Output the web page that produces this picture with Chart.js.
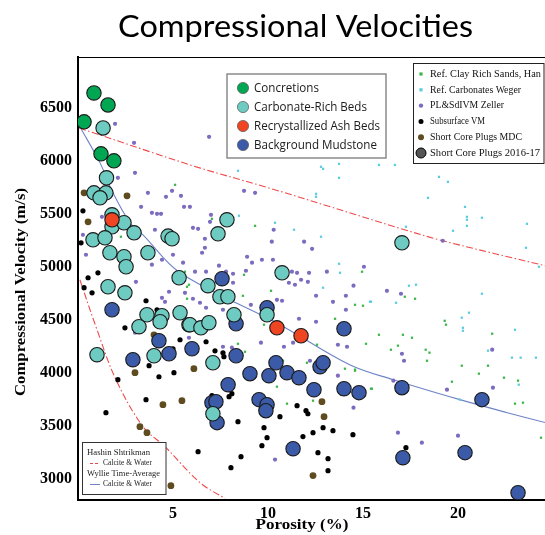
<!DOCTYPE html>
<html>
<head>
<meta charset="utf-8">
<script src="https://cdn.jsdelivr.net/npm/chart.js@4.4.1/dist/chart.umd.min.js"></script>
<style>
html,body{margin:0;padding:0;background:#fff;}
canvas{display:block;}
</style>
</head>
<body>
<canvas id="c" width="545" height="535"></canvas>
<script>
// ---------- DATA (porosity %, velocity m/s) ----------
const xTicks = [5, 10, 15, 20];
const yTicks = [3000, 3500, 4000, 4500, 5000, 5500, 6000, 6500];

const concretions = [[0.84,6641],[1.58,6528],[0.32,6368],[1.21,6066],[1.89,6000]];

const carbonateRich = [[1.32,6311],[1.5,5840],[0.84,5698],[1.47,5698],[1.16,5651],[1.79,5491],[1.79,5378],[2.42,5416],
  [2.95,5321],[0.79,5255],[1.42,5274],[1.68,5133],[2.42,5095],[2.53,5001],[3.68,5133],[4.74,5290],[4.95,5265],
  [5.32,4897],[1.58,4812],[2.47,4755],[3.63,4548],[3.21,4435],[4.42,4539],[4.32,4482],[5.37,4567],[5.84,4454],
  [1.0,4171],[4.0,4161],[7.84,5444],[7.37,5312],[10.74,4944],[6.84,4822],[7.47,4718],[7.89,4718],[8.21,4548],
  [9.95,4548],[5.89,4454],[6.47,4425],[6.89,4473],[7.1,4095],[7.1,3614],[17.05,5227]];

const ashBeds = [[1.79,5444],[10.47,4425],[11.74,4350]];

const mudstone = [[7.58,4888],[9.95,4614],[8.32,4463],[6.0,4227],[8.32,4161],[14.0,4416],[10.42,4095],[9.05,3992],
  [10.05,3973],[11.0,4001],[11.63,3954],[12.74,4058],[12.9,4095],[12.42,3841],[14.0,3850],[14.79,3813],[7.9,3888],
  [9.53,3747],[9.95,3699],[9.89,3643],[7.05,3718],[7.26,3728],[7.32,3530],[11.32,3284],[17.05,3860],[21.26,3747],
  [17.1,3199],[20.37,3247],[23.16,2869],[1.79,4595],[4.26,4303],[4.79,4180],[2.89,4124]];

const subsurfaceVM = [[0.26,5529],[0.16,5227],[1.05,4944],[0.53,4897],[0.32,4803],[0.74,4755],[3.58,4680],[4.16,4595],
  [2.47,4425],[5.37,4312],[5.0,4227],[4.26,4171],[3.74,4067],[4.26,3963],[5.05,4001],[2.1,3935],[3.58,3747],
  [1.47,3624],[6.74,4293],[7.21,4208],[7.63,4189],[7.68,4152],[7.05,3784],[8.1,3803],[7.95,3775],[8.42,3539],
  [10.63,3586],[11.53,3690],[12.0,3643],[12.1,3614],[9.79,3482],[12.37,3435],[12.9,3482],[13.42,3454],[14.47,3416],
  [11.84,3398],[9.95,3388],[9.68,3313],[6.32,3256],[8.58,3209],[8.05,3105],[12.63,3247],[13.16,3190],[13.16,3077],
  [17.26,3294]];

const plugsMDC = [[0.32,5698],[2.58,5670],[0.53,5425],[4.0,4359],[3.0,4001],[4.47,3699],[6.1,4039],[5.47,3737],
  [3.26,3492],[3.63,3435],[4.89,2935],[12.84,3728],[12.95,3586],[12.37,3030]];

const zeller = [[1.95,6349],[2.95,6170],[3.0,5887],[2.1,5840],[3.68,5698],[3.32,5566],[1.26,5472],[0.26,5302],
  [6.9,6227],[8.74,5717],[9.32,5698],[4.95,5717],[4.63,5661],[5.42,5670],[5.58,5566],[5.89,5566],[3.89,5510],
  [4.16,5500],[4.37,5500],[7.0,5491],[6.95,5425],[6.05,5368],[6.32,5359],[4.05,5350],[10.3,5350],[6.68,5265],
  [0.42,5114],[3.05,4859],[3.89,5020],[4.42,5067],[5.0,5114],[5.53,5039],[3.0,4378],[4.79,4765],[4.42,4708],
  [4.58,4670],[5.63,4755],[5.84,4331],[3.1,5274],[10.2,5237],[11.9,5237],[12.32,5170],[6.68,5180],[6.53,5133],
  [8.9,5095],[9.16,5039],[9.68,5067],[10.26,5067],[6.16,4954],[6.74,4954],[7.42,5011],[7.79,4954],[8.16,4935],
  [8.84,4963],[11.26,4954],[11.53,4944],[12.16,4944],[13.1,4954],[11.1,4850],[11.42,4831],[11.74,4878],[12.1,4859],
  [8.16,4850],[6.05,4699],[6.42,4661],[7.63,4595],[6.74,4614],[9.1,4642],[10.47,4689],[10.74,4680],[12.53,4727],
  [13.42,4670],[14.1,4727],[14.1,4595],[11.63,4510],[12.53,4482],[9.63,4284],[10.84,4246],[11.32,4284],[13.68,4265],
  [14.16,4246],[12.21,4114],[13.68,3973],[7.63,4246],[8.1,4237],[19.2,5246],[15.05,5001],[14.5,4822],[16.26,4774],
  [17.0,4746],[17.05,4180],[17.16,4114],[21.8,4218],[21.84,3860],[16.6,3926],[19.42,3841],[14.5,3671],[16.84,3435],
  [18.1,3341],[20.0,3407],[10.37,3181]];

const hanClay = [[5.11,5774],[9.32,5387],[7.05,5453],[2.26,5284],[5.63,4954],[5.84,4831],[5.74,4699],[8.74,4925],
  [10.16,4774],[8.68,4727],[5.74,4812],[13.53,4510],[14.95,4954],[14.58,4642],[15.0,4633],[12.58,4265],[12.05,4095],
  [15.84,4359],[9.79,4454],[8.79,4199],[8.42,4274],[10.79,4114],[10.47,3869],[14.05,4039],[14.58,4030],[11.0,3709],
  [15.47,3850],[13.84,3794],[12.37,3737],[17.2,4718],[17.74,4699],[17.1,4359],[17.58,4331],[15.16,4274],[16.84,4256],
  [16.47,4218],[18.3,4218],[18.5,4190],[18.37,4114],[19.3,4491],[19.37,4454],[21.8,4369],[20.2,4067],[21.1,3992],
  [21.58,4067],[22.42,3954],[23.16,3926],[19.68,3916],[14.58,4020],[15.42,3850],[23.0,3709],[23.42,3718],[24.37,3388]];

const wegerCarb = [[15.84,5962],[16.68,5962],[19.0,5849],[19.47,5802],[18.42,5651],[20.37,5566],[20.47,5472],
  [20.47,5444],[21.26,5463],[20.47,5387],[19.74,5340],[23.63,5406],[23.58,5180],[17.26,5378],[24.26,5001],[17.42,4822],
  [17.79,4831],[15.42,4671],[16.74,4661],[21.26,4746],[20.2,4520],[20.58,4567],[20.26,4425],[20.26,4397],[23.0,4406],
  [21.58,4209],[22.84,4143],[23.3,4143],[24.1,4143],[23.2,3888],[20.1,3747],[8.42,5906],[12.79,5944],[12.9,5925],
  [13.74,5972],[13.74,5840],[12.53,5689],[12.53,5661],[8.47,5482],[10.37,5416],[11.37,5350],[12.79,5284],[13.74,5029],
  [13.79,4944],[12.9,4803],[15.37,4671]];

// model curves
const hsUpper = [[0.05,6311],[3.8,6085],[6.4,5934],[10,5747],[13.2,5571],[16.9,5366],[19.2,5246],[24.6,5010]];
const hsLower = [[0.1,4878],[1.0,4407],[2.0,3935],[3.42,3492],[4.58,3303],[6.42,2964],[7.74,2813]];
const wyllie = [[0.1,6321],[1.16,5981],[1.84,5698],[2.74,5415],[3.42,5302],[5.37,4944],[10.63,4454],[14.3,4076],
  [16.6,3935],[20.1,3747],[22.6,3624],[24.6,3530]];

// ---------- STYLES ----------
const C = {
  concretion:'#00a651', carb:'#6dcbc1', ash:'#ef4523', mud:'#3b5ba9',
  han:'#3db54a', weger:'#5ccbe0', zeller:'#7c6bbf', vm:'#000000', mdc:'#5e4b1f', plug:'#555555',
  hs:'#ee4a4a', wy:'#6f84c8'
};
const pts = a => a.map(p => ({x:p[0], y:p[1]}));
const SERIF = '"Liberation Serif", "DejaVu Serif", serif';

function big(label, arr, color){
  return {label, data:pts(arr), backgroundColor:color, borderColor:'#1a1a1a', borderWidth:1.1, pointRadius:7.2, pointHoverRadius:7.2};
}
function small(label, arr, color, r, style){
  return {label, data:pts(arr), backgroundColor:color, borderColor:color, borderWidth:0, pointRadius:r, pointHoverRadius:r, pointStyle:style||'circle'};
}
function curve(label, arr, color, dash){
  return {type:'line', label, data:pts(arr), borderColor:color, borderWidth:1.1, borderDash:dash, pointRadius:0, fill:false, tension:0.35, showLine:true};
}

// dataset index 0 drawn on top
const datasets = [
  big('Recrystallized Ash Beds', ashBeds, C.ash),
  big('Concretions', concretions, C.concretion),
  big('Carbonate-Rich Beds', carbonateRich, C.carb),
  big('Background Mudstone', mudstone, C.mud),
  small('Short Core Plugs MDC', plugsMDC, C.mdc, 3.4),
  small('Subsurface VM', subsurfaceVM, C.vm, 2.6),
  small('PL&SdIVM Zeller', zeller, C.zeller, 2.1),
  small('Ref. Carbonates Weger', wegerCarb, C.weger, 1.6, 'rect'),
  small('Ref. Clay Rich Sands, Han', hanClay, C.han, 1.6, 'rect'),
  curve('HS upper', hsUpper, C.hs, [7,2.5,1.5,2.5]),
  curve('HS lower', hsLower, C.hs, [7,2.5,1.5,2.5]),
  curve('Wyllie', wyllie, C.wy, [])
];

function fitText(ctx, text, x, y, w, align){
  const m = ctx.measureText(text).width;
  const s = w / m;
  ctx.save();
  ctx.translate(x, y);
  ctx.scale(s, 1);
  ctx.textAlign = align || 'left';
  ctx.fillText(text, 0, 0);
  ctx.restore();
}

const decor = {
  id:'decor',
  afterDraw(chart){
    const ctx = chart.ctx;
    const a = chart.chartArea;
    ctx.save();
    // top frame line
    ctx.strokeStyle = '#000'; ctx.lineWidth = 1;
    ctx.beginPath(); ctx.moveTo(a.left-1, a.top+0.5); ctx.lineTo(chart.width, a.top+0.5); ctx.stroke();

    // title
    ctx.fillStyle = '#000';
    ctx.textBaseline = 'alphabetic';
    ctx.font = '30px Lato, "Open Sans", sans-serif';
    fitText(ctx, 'Compressional Velocities', 295.5, 37, 355, 'center');

    // axis titles
    ctx.font = 'bold 15px ' + SERIF;
    ctx.textBaseline = 'middle';
    ctx.save();
    ctx.translate(21, 292);
    ctx.rotate(-Math.PI/2);
    fitText(ctx, 'Compressional Velocity (m/s)', 0, 0, 208, 'center');
    ctx.restore();
    fitText(ctx, 'Porosity (%)', 302, 525, 93, 'center');

    // legend 1
    ctx.fillStyle = '#fff';
    ctx.fillRect(227, 74, 159, 84);
    ctx.strokeStyle = '#7a7a7a'; ctx.lineWidth = 1.3;
    ctx.strokeRect(227, 74, 159, 84);
    const L1 = [['Concretions', C.concretion, 65], ['Carbonate-Rich Beds', C.carb, 113],
                ['Recrystallized Ash Beds', C.ash, 126], ['Background Mudstone', C.mud, 123]];
    ctx.font = '13px "Open Sans", Lato, sans-serif';
    ctx.textBaseline = 'middle';
    L1.forEach((it, i) => {
      const y = 88 + i*19;
      ctx.beginPath(); ctx.arc(243, y, 5.6, 0, Math.PI*2);
      ctx.fillStyle = it[1]; ctx.fill();
      ctx.strokeStyle = '#555'; ctx.lineWidth = 0.7; ctx.stroke();
      ctx.fillStyle = '#1a1a1a';
      fitText(ctx, it[0], 254, y, it[2], 'left');
    });

    // legend 2
    ctx.fillStyle = '#fff';
    ctx.fillRect(413, 63.5, 131, 100);
    ctx.strokeStyle = '#222'; ctx.lineWidth = 1;
    ctx.strokeRect(413.5, 63.5, 130.5, 100);
    const L2 = [['Ref. Clay Rich Sands, Han','rect',C.han,1.6,111],
                ['Ref. Carbonates Weger','rect',C.weger,1.6,91],
                ['PL&SdIVM Zeller','dot',C.zeller,2.2,74],
                ['Subsurface VM','dot',C.vm,2.5,55],
                ['Short Core Plugs MDC','dot',C.mdc,3,92],
                ['Short Core Plugs 2016-17','big',C.plug,5,110]];
    ctx.font = '10.5px ' + SERIF;
    L2.forEach((it, i) => {
      const y = 74 + i*15.8;
      const mx = 421;
      if (it[1] === 'rect') {
        ctx.fillStyle = it[2]; ctx.fillRect(mx-1.6, y-1.6, 3.2, 3.2);
      } else {
        ctx.beginPath(); ctx.arc(mx, y, it[3], 0, Math.PI*2);
        ctx.fillStyle = it[2]; ctx.fill();
        if (it[1] === 'big') { ctx.strokeStyle = '#000'; ctx.lineWidth = 1; ctx.stroke(); }
      }
      ctx.fillStyle = '#111';
      fitText(ctx, it[0], 430, y, it[4], 'left');
    });

    // legend 3
    ctx.fillStyle = '#fff';
    ctx.fillRect(82, 442.5, 84, 52);
    ctx.strokeStyle = '#333'; ctx.lineWidth = 1;
    ctx.strokeRect(82.5, 442.5, 83.5, 52);
    ctx.font = '9px ' + SERIF;
    ctx.fillStyle = '#222';
    fitText(ctx, 'Hashin Shtrikman', 87, 453, 63, 'left');
    fitText(ctx, 'Calcite & Water', 103, 463, 49, 'left');
    fitText(ctx, 'Wyllie Time-Average', 87, 474, 73, 'left');
    fitText(ctx, 'Calcite & Water', 103, 484, 49, 'left');
    ctx.strokeStyle = C.hs; ctx.lineWidth = 1; ctx.setLineDash([3,2]);
    ctx.beginPath(); ctx.moveTo(90, 463.5); ctx.lineTo(100, 463.5); ctx.stroke();
    ctx.setLineDash([]);
    ctx.strokeStyle = C.wy;
    ctx.beginPath(); ctx.moveTo(90, 484.5); ctx.lineTo(100, 484.5); ctx.stroke();
    ctx.restore();
  }
};

new Chart(document.getElementById('c'), {
  type:'scatter',
  data:{datasets},
  options:{
    responsive:false,
    animation:false,
    layout:{autoPadding:false, padding:{top:57, left:0, right:0, bottom:0}},
    plugins:{legend:{display:false}, tooltip:{enabled:false}, title:{display:false}},
    scales:{
      x:{
        type:'linear', min:0, max:24.58,
        grid:{display:false, drawTicks:false},
        border:{display:true, color:'#000', width:2},
        ticks:{font:{family:SERIF, size:16, weight:'bold'}, color:'#000', padding:4, autoSkip:false, maxRotation:0,
               callback: v => String(v)},
        afterBuildTicks: s => { s.ticks = xTicks.map(v => ({value:v})); },
        afterFit: s => { s.height = 35; s.paddingLeft = 0; s.paddingRight = 0; }
      },
      y:{
        type:'linear', min:2800, max:6980,
        grid:{display:false, drawTicks:false},
        border:{display:true, color:'#000', width:2},
        ticks:{font:{family:SERIF, size:16, weight:'bold'}, color:'#000', padding:6, autoSkip:false,
               callback: v => String(v)},
        afterBuildTicks: s => { s.ticks = yTicks.map(v => ({value:v})); },
        afterFit: s => { s.width = 78; s.paddingTop = 0; s.paddingBottom = 0; }
      }
    }
  },
  plugins:[decor]
});
</script>
</body>
</html>
